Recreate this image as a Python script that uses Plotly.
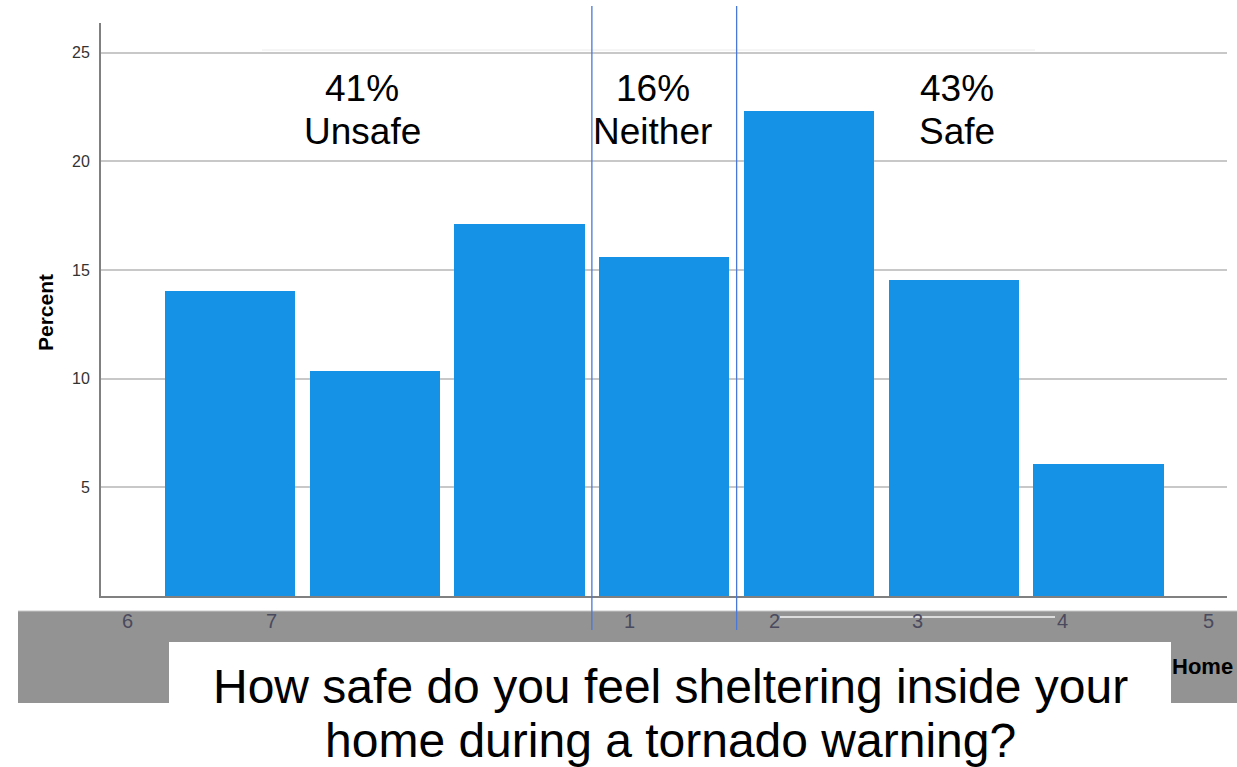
import plotly.graph_objects as go

# ---- data ----
bar_positions = [0, 1, 2, 3, 4, 5, 6]
percent_values = [14.05, 10.36, 17.13, 15.61, 22.33, 14.55, 6.07]
tick_labels = ["6", "7", "1", "2", "3", "4", "5"]
group_percents = ["41%", "16%", "43%"]
group_names = ["Unsafe", "Neither", "Safe"]
y_ticks = [5, 10, 15, 20, 25]

# ---- layout helpers (positions / styles) ----
W, H = 1237, 767
L, R, T, B = 101, 10, 23, 171
PW, PH = W - L - R, H - T - B
X0PX, STEP = 230.0, 144.75      # pixel centre of first bar, spacing
def px_x(p):   # pixel -> paper x
    return (p - L) / PW
def px_y(p):   # pixel -> paper y
    return (H - B - p) / PH

tick_x = [-0.71, 0.29, 2.76, 3.76, 4.75, 5.75, 6.76]
group_x = [0.912, 2.922, 5.02]
divider_x = [2.5, 3.5]

FONT = "Arial, Liberation Sans, sans-serif"
BAR_COLOR = "#1592e6"

fig = go.Figure(go.Bar(
    x=bar_positions, y=percent_values, width=0.9,
    marker=dict(color=BAR_COLOR, line=dict(width=0)),
    hoverinfo="skip",
))

xr = [(L - X0PX) / STEP, (W - R - X0PX) / STEP]
yr = [0, (596 - 23) / 21.74]

shapes = []
for x0, x1 in [(262, 460), (572, 738), (880, 1035)]:
    shapes.append(dict(type="rect", xref="paper", yref="paper",
                       x0=px_x(x0), x1=px_x(x1), y0=px_y(164), y1=px_y(50),
                       fillcolor="white", line=dict(width=0), layer="below"))
shapes.append(dict(type="line", xref="paper", yref="paper",
                   x0=px_x(262), x1=px_x(1035), y0=px_y(50), y1=px_y(50),
                   line=dict(color="#ececec", width=1), layer="below"))
shapes.append(dict(type="rect", xref="paper", yref="paper",
                   x0=px_x(18), x1=px_x(1237), y0=px_y(703), y1=px_y(611),
                   fillcolor="#939393", line=dict(width=0), layer="above"))
shapes.append(dict(type="line", xref="paper", yref="paper",
                   x0=px_x(18), x1=px_x(1237), y0=px_y(611), y1=px_y(611),
                   line=dict(color="#c8c8c8", width=1), layer="above"))
shapes.append(dict(type="line", xref="paper", yref="paper",
                   x0=px_x(780), x1=px_x(1055), y0=px_y(617), y1=px_y(617),
                   line=dict(color="#dcdcdc", width=2), layer="above"))
shapes.append(dict(type="rect", xref="paper", yref="paper",
                   x0=px_x(169), x1=px_x(1171), y0=px_y(767), y1=px_y(642),
                   fillcolor="white", line=dict(width=0), layer="above"))
for dx in divider_x:
    shapes.append(dict(type="line", xref="x", yref="paper",
                       x0=dx, x1=dx, y0=px_y(630), y1=px_y(6),
                       line=dict(color="#4a78d6", width=1.3), layer="above"))

annotations = []
for gx, gp, gn in zip(group_x, group_percents, group_names):
    annotations.append(dict(x=gx, xref="x", y=px_y(88), yref="paper", text=gp,
                            showarrow=False, xanchor="center", yanchor="middle",
                            font=dict(family=FONT, size=37, color="black")))
    annotations.append(dict(x=gx, xref="x", y=px_y(131), yref="paper", text=gn,
                            showarrow=False, xanchor="center", yanchor="middle",
                            font=dict(family=FONT, size=37, color="black")))
for tx, tl in zip(tick_x, tick_labels):
    annotations.append(dict(x=tx, xref="x", y=px_y(621), yref="paper", text=tl,
                            showarrow=False, xanchor="center", yanchor="middle",
                            font=dict(family=FONT, size=20, color="#4a4a5e")))
annotations.append(dict(x=px_x(1202), xref="paper", y=px_y(666), yref="paper",
                        text="<b>Home</b>", showarrow=False, xanchor="center",
                        yanchor="middle", font=dict(family=FONT, size=22, color="black")))
annotations.append(dict(x=px_x(670), xref="paper", y=px_y(686), yref="paper",
                        text="How safe do you feel sheltering inside your",
                        showarrow=False, xanchor="center", yanchor="middle",
                        font=dict(family=FONT, size=48, color="black")))
annotations.append(dict(x=px_x(670), xref="paper", y=px_y(740), yref="paper",
                        text="home during a tornado warning?",
                        showarrow=False, xanchor="center", yanchor="middle",
                        font=dict(family=FONT, size=48, color="black")))
annotations.append(dict(x=px_x(45), xref="paper", y=px_y(313), yref="paper",
                        text="<b>Percent</b>", textangle=-90, showarrow=False,
                        xanchor="center", yanchor="middle",
                        font=dict(family=FONT, size=21, color="black")))

fig.update_layout(
    width=W, height=H,
    margin=dict(l=L, r=R, t=T, b=B, pad=0),
    paper_bgcolor="white", plot_bgcolor="white",
    showlegend=False,
    bargap=0,
    xaxis=dict(range=xr, showticklabels=False, showgrid=False, zeroline=False,
               showline=True, linecolor="#808080", linewidth=2, ticks="",
               fixedrange=True),
    yaxis=dict(range=yr, tickvals=y_ticks, showgrid=True,
               gridcolor="#c8c8c8", gridwidth=1.5, zeroline=False,
               showline=True, linecolor="#808080", linewidth=2, ticks="",
               ticklabelstandoff=6,
               tickfont=dict(family=FONT, size=16, color="#333333"),
               fixedrange=True),
    shapes=shapes,
    annotations=annotations,
)

fig.write_html(
    "out.html",
    config={"displayModeBar": False},
    post_script="document.body.style.margin='0';document.body.style.padding='0';document.body.style.overflow='hidden';",
)
